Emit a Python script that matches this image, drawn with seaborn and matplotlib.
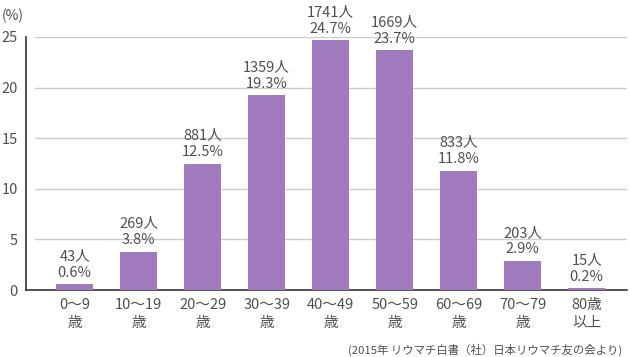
import matplotlib
matplotlib.use("Agg")
import matplotlib.pyplot as plt
import seaborn as sns
import pandas as pd

categories = ["0〜9\n歳", "10〜19\n歳", "20〜29\n歳", "30〜39\n歳", "40〜49\n歳",
              "50〜59\n歳", "60〜69\n歳", "70〜79\n歳", "80歳\n以上"]
percent = [0.6, 3.8, 12.5, 19.3, 24.7, 23.7, 11.8, 2.9, 0.2]
people = [43, 269, 881, 1359, 1741, 1669, 833, 203, 15]
yticks = [0, 5, 10, 15, 20, 25]

sns.set_theme(style="white")
plt.rcParams['font.family'] = ['Noto Sans CJK JP', 'DejaVu Sans']

df = pd.DataFrame({"cat": categories, "pct": percent, "n": people})

W, H = 630, 357
fig = plt.figure(figsize=(W / 100, H / 100), dpi=100)
ax = fig.add_axes([26 / W, 1 - 290 / H, (627 - 26) / W, (290 - 37) / H])

gray = "#505050"
sns.barplot(data=df, x="cat", y="pct", color="#a07cbe", saturation=1,
            width=0.58, ax=ax, zorder=3, edgecolor="none", linewidth=0)

ax.set_ylim(0, 25)
ax.set_xlim(-0.76, 8.63)
ax.set_yticks(yticks)
ax.set_yticklabels([str(v) for v in yticks])
ax.set_xlabel("")
ax.set_ylabel("")

x0 = (35 - 26) / (627 - 26)
for v in yticks[1:]:
    ax.plot([x0, 1.0], [v, v], transform=ax.get_yaxis_transform(),
            color="#cccccc", lw=1, zorder=1)

for s in ["top", "right"]:
    ax.spines[s].set_visible(False)
for s in ["left", "bottom"]:
    ax.spines[s].set_color("#333333")
    ax.spines[s].set_linewidth(1.2)

ax.tick_params(axis="y", direction="in", length=6, width=1.2, color="#333333",
               labelsize=10.5, labelcolor=gray, pad=6)
ax.tick_params(axis="x", length=0, labelsize=10.5, labelcolor=gray, pad=6)
for lbl in ax.get_xticklabels():
    lbl.set_linespacing(1.3)

for i, (p, n) in enumerate(zip(percent, people)):
    ax.annotate(f"{n}人\n{p}%", (i, p), xytext=(0, 3), textcoords="offset points",
                ha="center", va="bottom", fontsize=10.5, color=gray,
                linespacing=1.25, annotation_clip=False)

fig.text(2 / W, 1 - 16 / H, "(%)", fontsize=10, color=gray, va="center", ha="left")
fig.text(622 / W, 1 - 350 / H, "(2015年 リウマチ白書（社）日本リウマチ友の会より)",
         fontsize=8.2, color=gray, va="center", ha="right")

fig.savefig("out.png", dpi=100)
